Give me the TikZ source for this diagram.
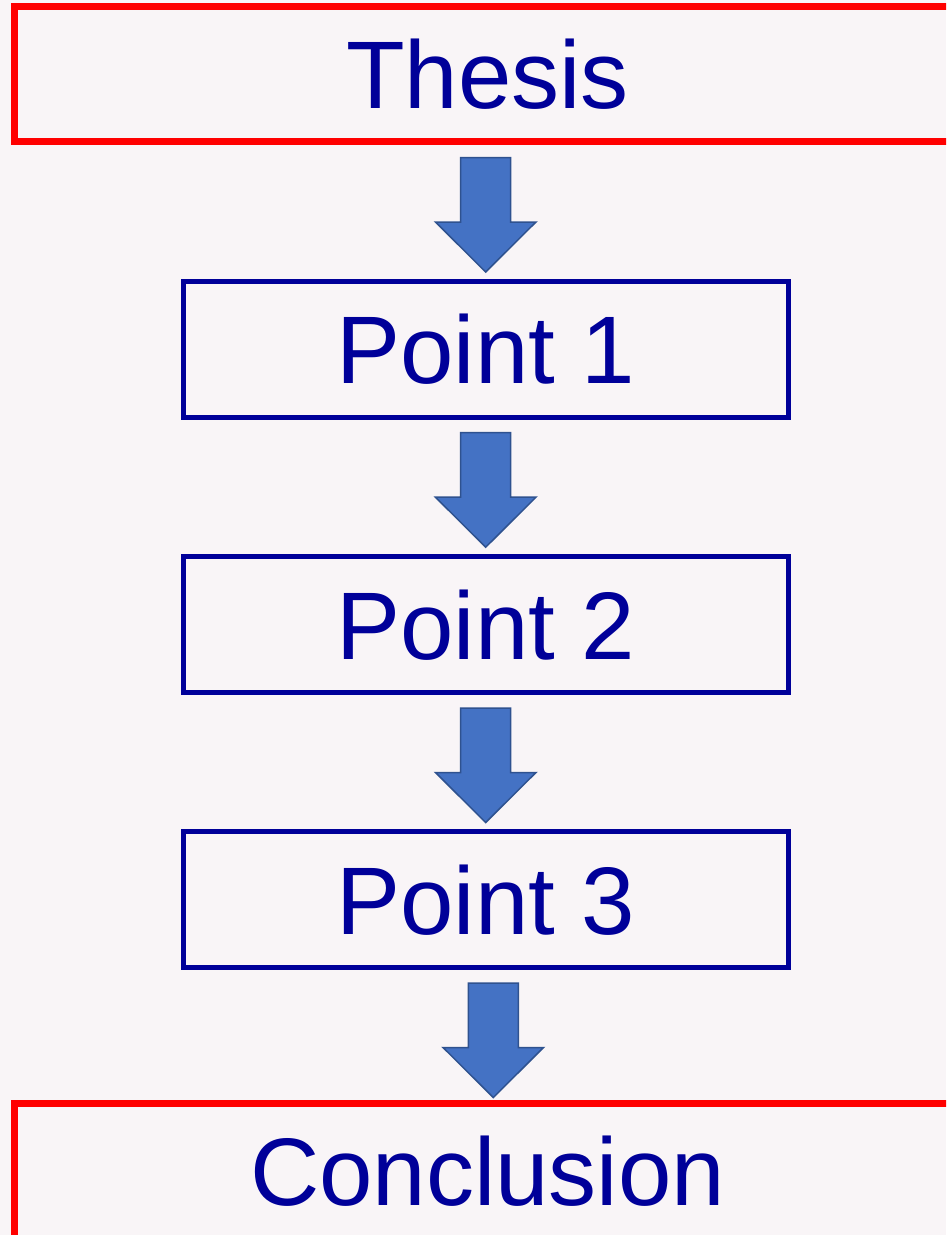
\documentclass[tikz,border=0pt]{standalone}
\usepackage{fontspec}
\setmainfont{Liberation Sans}
\definecolor{bgc}{HTML}{F9F5F7}
\definecolor{txtblue}{HTML}{000099}
\definecolor{arrfill}{HTML}{4472C4}
\definecolor{arrline}{HTML}{2F528F}
\definecolor{redline}{HTML}{FF0000}
\tikzset{
  bigtext/.style={font=\fontsize{96}{100}\selectfont, text=txtblue, text height=69pt, text depth=0pt, inner sep=0pt},
  redbox/.style={bigtext, draw=redline, line width=7pt, minimum width=946pt, minimum height=135pt},
  bluebox/.style={bigtext, draw=txtblue, line width=5pt, minimum width=604.5pt, minimum height=135.5pt},
  barrow/.style={fill=arrfill, draw=arrline, line width=1.5pt, line join=miter},
}
\newcommand\blockarrowat[1]{%
  \draw[barrow] (#1) ++(-25,0) -- ++(50,0) -- ++(0,64.5) -- ++(25.25,0) -- ++(-50.25,50) -- ++(-50.25,-50) -- ++(25.25,0) -- cycle;}
\begin{document}
\begin{tikzpicture}[x=1pt,y=-1pt]
\useasboundingbox (0,0) rectangle (946,1235);
\clip (0,0) rectangle (946,1235);
\fill[bgc] (0,0) rectangle (946,1235);
\node[redbox] (thesis) at (487.5,74) {Thesis};
\node[bluebox] (p1) at (485.75,349.25) {Point 1};
\node[bluebox] (p2) at (485.75,624.5) {Point 2};
\node[bluebox] (p3) at (485.75,899.5) {Point 3};
\node[redbox] (concl) at (487.5,1171) {Conclusion};
\coordinate (a1) at (485.7,157.5);
\coordinate (a2) at (485.7,432.7);
\coordinate (a3) at (485.7,708);
\coordinate (a4) at (493.3,983);
\blockarrowat{a1}
\blockarrowat{a2}
\blockarrowat{a3}
\blockarrowat{a4}
\end{tikzpicture}
\end{document}
